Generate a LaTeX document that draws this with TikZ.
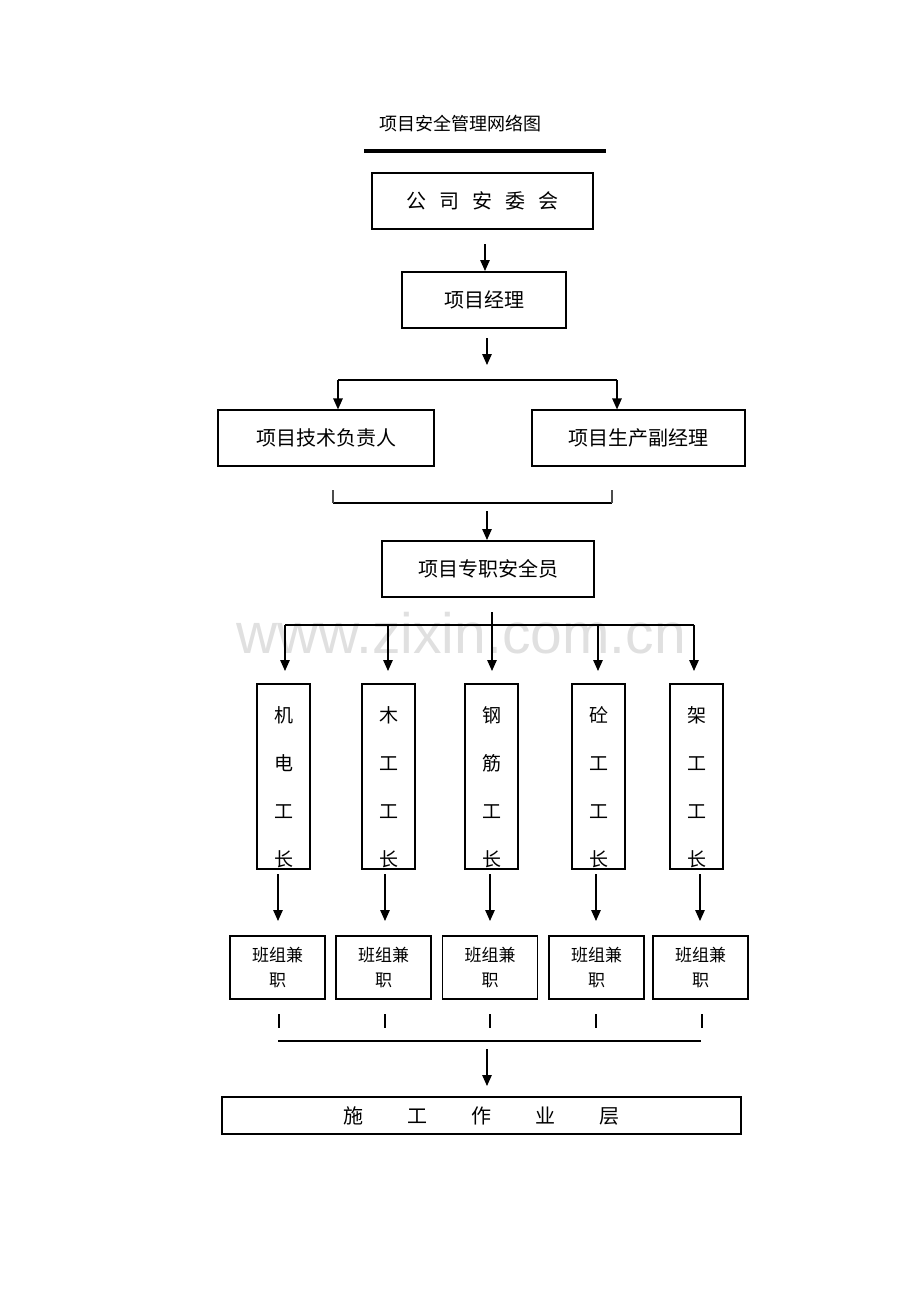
\documentclass[tikz,border=0pt]{standalone}
\usepackage{fontspec}
\setmainfont{Noto Sans CJK SC}
\newfontfamily\wmfont{Liberation Sans}
\usetikzlibrary{arrows.meta,calc}
\tikzset{
  box/.style={draw, line width=1.2pt, inner sep=0pt, font=\fontsize{20}{24}\selectfont},
  colbox/.style={draw, line width=1.2pt, inner sep=0pt, minimum width=53pt, minimum height=185pt},
  coltext/.style={inner sep=0pt, align=center, font=\fontsize{19}{48}\selectfont},
  teambox/.style={draw, line width=1.2pt, inner sep=0pt, minimum width=95pt, minimum height=63pt, align=center, font=\fontsize{17}{25}\selectfont},
  arr/.style={line width=1.3pt, -{Triangle[length=11pt,width=9.5pt]}},
  ln/.style={line width=1.2pt},
}
\begin{document}
\begin{tikzpicture}[x=1pt,y=-1pt]
\useasboundingbox (0,0) rectangle (920,1302);
% watermark
\node[text=black!12, font=\wmfont\fontsize{57}{60}\selectfont, inner sep=0pt] (wm) at (461,633) {www.zixin.com.cn};
% title
\node[inner sep=0pt, font=\fontsize{18}{20}\selectfont] (title) at (460,124) {项目安全管理网络图};
\coordinate (tl1) at (364,151);
\coordinate (tl2) at (606,151);
\draw[line width=4pt] (tl1) -- (tl2);
% level 1
\node[box, minimum width=221pt, minimum height=56pt] (b1) at (482.5,201) {公\hspace{13pt}司\hspace{13pt}安\hspace{13pt}委\hspace{13pt}会};
\coordinate (a1s) at (485,244); \coordinate (a1e) at (485,271);
\draw[arr] (a1s) -- (a1e);
\node[box, minimum width=164pt, minimum height=56pt] (b2) at (484,300) {项目经理};
\coordinate (a2s) at (487,338); \coordinate (a2e) at (487,365);
\draw[arr] (a2s) -- (a2e);
% branch to two
\coordinate (br1) at (338,380); \coordinate (br2) at (617,380);
\node[box, minimum width=216pt, minimum height=56pt] (b3) at (326,438) {项目技术负责人};
\node[box, minimum width=213pt, minimum height=56pt] (b4) at (638.5,438) {项目生产副经理};
\draw[ln] (br1) -- (br2);
\draw[arr] (br1) -- (br1 |- b3.north);
\draw[arr] (br2) -- (br2 |- b4.north);
% merge line
\coordinate (m1) at (333,503); \coordinate (m2) at (612,503);
\coordinate (m1t) at (333,490); \coordinate (m2t) at (612,490);
\draw[ln] (m1) -- (m2);
\draw[line width=1.6pt, black!70] (m1t) -- (m1);
\draw[line width=1.6pt, black!70] (m2t) -- (m2);
\coordinate (a3s) at (487,511); \coordinate (a3e) at (487,540);
\draw[arr] (a3s) -- (a3e);
\node[box, minimum width=212pt, minimum height=56pt] (b5) at (488,569) {项目专职安全员};
% distribution
\coordinate (d0) at (492,612);
\coordinate (dl) at (285,625); \coordinate (dr) at (694,625);
\draw[ln] (dl) -- (dr);
\coordinate (e1) at (285,671); \coordinate (e2) at (388,671); \coordinate (e3) at (492,671);
\coordinate (e4) at (598,671); \coordinate (e5) at (694,671);
\draw[arr] (dl) -- (e1);
\draw[arr] (388,625) -- (e2);
\draw[arr] (d0) -- (e3);
\draw[arr] (598,625) -- (e4);
\draw[arr] (dr) -- (e5);
% columns
\node[colbox] (c1) at (283.5,776.5) {};
\node[colbox] (c2) at (388.5,776.5) {};
\node[colbox] (c3) at (491.5,776.5) {};
\node[colbox] (c4) at (598.5,776.5) {};
\node[colbox] (c5) at (696.5,776.5) {};
\node[coltext] (t1) at (283.5,787) {机\\电\\工\\长};
\node[coltext] (t2) at (388.5,787) {木\\工\\工\\长};
\node[coltext] (t3) at (491.5,787) {钢\\筋\\工\\长};
\node[coltext] (t4) at (598.5,787) {砼\\工\\工\\长};
\node[coltext] (t5) at (696.5,787) {架\\工\\工\\长};
% team boxes
\node[teambox] (g1) at (277.5,967.5) {班组兼\\职};
\node[teambox] (g2) at (383.5,967.5) {班组兼\\职};
\node[teambox] (g3) at (490,967.5) {班组兼\\职};
\node[teambox] (g4) at (596.5,967.5) {班组兼\\职};
\node[teambox] (g5) at (700.5,967.5) {班组兼\\职};
\foreach \x/\n in {278/1,385/2,490/3,596/4,700/5}{
  \coordinate (f\n s) at (\x,874);
  \coordinate (f\n e) at (\x,921);
  \draw[arr] (f\n s) -- (f\n e);
}
% ticks
\foreach \x/\n in {279/1,385/2,490/3,596/4,702/5}{
  \coordinate (k\n s) at (\x,1014);
  \coordinate (k\n e) at (\x,1028);
  \draw[ln] (k\n s) -- (k\n e);
}
\coordinate (h1) at (278,1041); \coordinate (h2) at (701,1041);
\draw[ln] (h1) -- (h2);
\coordinate (a4s) at (487,1049); \coordinate (a4e) at (487,1086);
\draw[arr] (a4s) -- (a4e);
\node[box, minimum width=519pt, minimum height=37pt] (b6) at (481.5,1115.5) {};
\node[inner sep=0pt, font=\fontsize{20}{24}\selectfont] (t6) at (481.5,1116) {施\hspace{44pt}工\hspace{44pt}作\hspace{44pt}业\hspace{44pt}层};
\end{tikzpicture}
\end{document}
